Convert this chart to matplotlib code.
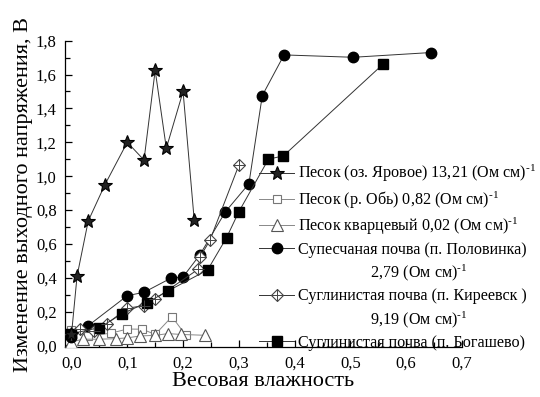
import matplotlib
matplotlib.use("Agg")
import matplotlib.pyplot as plt
from matplotlib.lines import Line2D
from matplotlib.ticker import MultipleLocator, FuncFormatter

plt.rcParams['font.family'] = ['Liberation Serif', 'DejaVu Serif']
plt.rcParams['mathtext.fontset'] = 'custom'
plt.rcParams['mathtext.rm'] = 'Liberation Serif'
plt.rcParams['mathtext.it'] = 'Liberation Serif:italic'
plt.rcParams['mathtext.bf'] = 'Liberation Serif:bold'

# ---- data ----
star_x = [0.0, 0.01, 0.03, 0.06, 0.10, 0.13, 0.15, 0.17, 0.20, 0.22]
star_y = [0.065, 0.41, 0.735, 0.95, 1.20, 1.095, 1.625, 1.165, 1.50, 0.74]

osq_x = [0.0, 0.03, 0.07, 0.10, 0.127, 0.15, 0.18, 0.205]
osq_y = [0.09, 0.057, 0.072, 0.097, 0.096, 0.065, 0.17, 0.06]

tri_x = [0.0, 0.02, 0.05, 0.08, 0.10, 0.123, 0.15, 0.173, 0.197, 0.24]
tri_y = [0.02, 0.037, 0.037, 0.04, 0.045, 0.056, 0.06, 0.07, 0.065, 0.06]

circ_x = [0.0, 0.03, 0.10, 0.13, 0.178, 0.20, 0.23, 0.276, 0.318, 0.342, 0.381, 0.505, 0.644]
circ_y = [0.05, 0.117, 0.294, 0.314, 0.397, 0.405, 0.535, 0.79, 0.955, 1.476, 1.716, 1.702, 1.73]

dia_x = [0.0, 0.015, 0.04, 0.063, 0.10, 0.13, 0.15, 0.227, 0.23, 0.248, 0.30]
dia_y = [0.07, 0.097, 0.085, 0.127, 0.22, 0.235, 0.275, 0.45, 0.52, 0.62, 1.065]

fsq_x = [0.0, 0.05, 0.09, 0.135, 0.173, 0.244, 0.278, 0.30, 0.353, 0.38, 0.558]
fsq_y = [0.07, 0.105, 0.186, 0.253, 0.322, 0.446, 0.637, 0.79, 1.10, 1.12, 1.66]

sup = r"$^{\text{-}1}$"
labels = [
    "Песок (оз. Яровое) 13,21 (Ом см)" + sup,
    "Песок (р. Обь) 0,82 (Ом см)" + sup,
    "Песок кварцевый 0,02 (Ом см)" + sup,
    "Супесчаная почва (п. Половинка)",
    "2,79 (Ом см)" + sup,
    "Суглинистая почва (п. Киреевск )",
    "9,19 (Ом см)" + sup,
    "Суглинистая почва (п. Богашево)",
]

xlabel = "Весовая влажность"
ylabel = "Изменение выходного напряжения, В"

# ---- figure ----
fig = plt.figure(figsize=(5.40, 3.97), dpi=100)
ax = fig.add_axes([0.1204, 0.1247, 0.8556 - 0.1204, 0.8975 - 0.1247])

lc = '#333333'
lw = 0.7
h_star, = ax.plot(star_x, star_y, '-', color=lc, lw=lw, marker='*', ms=10,
                  mfc='#222222', mec='black', mew=0.8, zorder=6)
h_osq, = ax.plot(osq_x, osq_y, '-', color='#888888', lw=lw, marker='s', ms=6,
                 mfc='white', mec='#777777', mew=0.8, zorder=3)
h_tri, = ax.plot(tri_x, tri_y, '-', color='#888888', lw=lw, marker='^', ms=8.5,
                 mfc='white', mec='#555555', mew=0.8, zorder=3)
h_circ, = ax.plot(circ_x, circ_y, '-', color=lc, lw=lw, marker='o', ms=7.5,
                  mfc='black', mec='black', zorder=4)
h_dia, = ax.plot(dia_x, dia_y, '-', color=lc, lw=lw, marker='D', ms=6.5,
                 mfc='white', mec='#444444', mew=0.8, zorder=4)
h_dia2, = ax.plot(dia_x, dia_y, ls='none', marker='+', ms=8, mec='#444444',
                  mew=0.7, zorder=5)
h_fsq, = ax.plot(fsq_x, fsq_y, '-', color=lc, lw=lw, marker='s', ms=6.5,
                 mfc='black', mec='black', zorder=4)

blank = Line2D([], [], color='none')
handles = [h_star, h_osq, h_tri, h_circ, blank, (h_dia, h_dia2), blank, h_fsq]
labs = list(labels)
pad = " " * 18
labs[4] = pad + labs[4]
labs[6] = pad + labs[6]

leg = ax.legend(handles, labs, loc='upper left',
                bbox_to_anchor=(259 / 540, 1 - 163 / 397),
                bbox_transform=fig.transFigure, frameon=False,
                fontsize=11.6, handlelength=2.2, handletextpad=0.2,
                labelspacing=0.31, borderpad=0, borderaxespad=0)

ax.set_xlim(-0.0116, 0.70)
ax.set_ylim(-0.012, 1.80)

for s in ['top', 'right']:
    ax.spines[s].set_visible(False)
for s in ['left', 'bottom']:
    ax.spines[s].set_linewidth(0.9)

ax.xaxis.set_major_locator(MultipleLocator(0.1))
ax.xaxis.set_minor_locator(MultipleLocator(0.05))
ax.yaxis.set_major_locator(MultipleLocator(0.2))
ax.yaxis.set_minor_locator(MultipleLocator(0.1))
fmt = FuncFormatter(lambda v, p: f"{v:.1f}".replace('.', ',').replace('-0,0', '0,0'))
ax.xaxis.set_major_formatter(fmt)
ax.yaxis.set_major_formatter(fmt)
ax.tick_params(which='major', direction='in', length=5, width=0.9,
               labelsize=12, pad=6)
ax.tick_params(which='minor', direction='in', length=3.5, width=0.9)

ax.set_xlabel(xlabel, fontsize=16, labelpad=0)
ax.set_ylabel(ylabel, fontsize=16, labelpad=2)

fig.savefig("out.png", dpi=100)
